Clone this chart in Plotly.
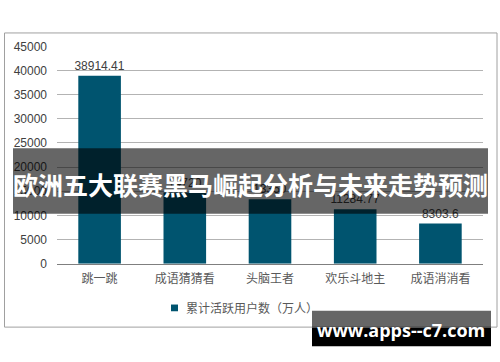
import plotly.graph_objects as go

categories = ["跳一跳", "成语猜猜看", "头脑王者", "欢乐斗地主", "成语消消看"]
values = [38914.41, 14720.0, 13350.0, 11284.77, 8303.6]
labels = ["38914.41", "14720", "13350", "11284.77", "8303.6"]
series_name = "累计活跃用户数（万人）"
y_ticks = [0, 5000, 10000, 15000, 20000, 25000, 30000, 35000, 40000, 45000]
y_tick_text = ["0", "5000", "10000", "15000", "20000", "25000", "30000", "35000", "40000", "45000"]
banner_title = "欧洲五大联赛黑马崛起分析与未来走势预测"
watermark = "www.apps--c7.com"

W, H = 500, 362
def px(x): return x / W
def py(y): return 1 - y / H

BAR = "#00546f"
FONT = "Liberation Sans, Noto Sans CJK SC, sans-serif"
CJK = "Noto Sans CJK SC, sans-serif"

fig = go.Figure()
fig.add_trace(go.Bar(
    x=categories, y=values, name=series_name,
    marker=dict(color=BAR, line=dict(width=0)),
    text=labels, textposition="outside", cliponaxis=False, constraintext="none",
    textfont=dict(size=12, color="#404040", family=FONT),
))

fig.update_layout(
    width=W, height=H, margin=dict(l=0, r=0, t=0, b=0),
    paper_bgcolor="white", plot_bgcolor="white",
    showlegend=False, bargap=0.5,
    font=dict(family=FONT, size=12, color="#404040"),
    xaxis=dict(domain=[px(57), px(483)], showgrid=False, showline=True,
               linecolor="#7f7f7f", linewidth=1, ticks="", ticklabelstandoff=4,
               tickfont=dict(size=12, color="#595959", family=CJK)),
    yaxis=dict(domain=[py(267), py(41)], range=[0, 45000], tickvals=y_ticks, ticktext=y_tick_text,
               showgrid=True, gridcolor="#b3b3b3", gridwidth=1, zeroline=False,
               showline=False, ticks="", ticklabelstandoff=9,
               tickfont=dict(size=12, color="#404040")),
)

shapes = [
    dict(type="rect", xref="paper", yref="paper", x0=px(4.5), x1=px(497), y0=py(333), y1=py(27),
         line=dict(color="#a0a0a0", width=1), fillcolor="rgba(0,0,0,0)", layer="below"),
    dict(type="rect", xref="paper", yref="paper", x0=px(171), x1=px(178), y0=py(316.5), y1=py(309.5),
         line=dict(width=0), fillcolor=BAR),
    dict(type="rect", xref="paper", yref="paper", x0=px(13), x1=px(488), y0=py(215), y1=py(147),
         line=dict(width=0), fillcolor="rgba(0,0,0,0.6)", layer="above"),
    dict(type="rect", xref="paper", yref="paper", x0=px(312), x1=px(491), y0=py(334), y1=py(316),
         line=dict(width=0), fillcolor="rgba(0,0,0,0.6)", layer="above"),
    dict(type="rect", xref="paper", yref="paper", x0=px(312), x1=px(491), y0=py(353), y1=py(334),
         line=dict(width=0), fillcolor="black", layer="above"),
]
fig.update_layout(shapes=shapes)

fig.add_annotation(xref="paper", yref="paper", x=px(184), y=py(313), xanchor="left", yanchor="middle",
                   text=series_name, showarrow=False,
                   font=dict(size=12, color="#595959", family=CJK))
fig.add_annotation(xref="paper", yref="paper", x=px(250.5), y=py(184), xanchor="center", yanchor="middle",
                   text="<b>" + banner_title + "</b>", showarrow=False,
                   font=dict(size=25, color="white", family=CJK))
fig.add_annotation(xref="paper", yref="paper", x=px(401), y=py(336), xanchor="center", yanchor="middle",
                   text="<b>" + watermark + "</b>", showarrow=False,
                   font=dict(size=18, color="white", family="Open Sans, DejaVu Sans, sans-serif"))

fig.write_html("out.html")
